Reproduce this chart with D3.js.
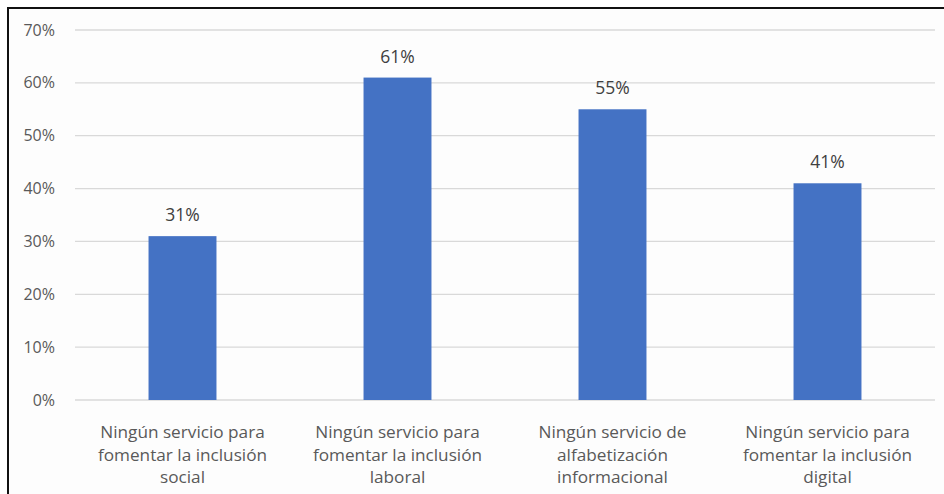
<!DOCTYPE html>
<html>
<head>
<meta charset="utf-8">
<script src="https://cdn.jsdelivr.net/npm/d3@7"></script>
<style>
  html, body { margin: 0; padding: 0; background: #fff; }
  svg { display: block; }
  text { font-family: "Open Sans", "Noto Sans", sans-serif; fill: #595959; }
</style>
</head>
<body>
<svg id="chart" width="944" height="494"></svg>
<script>
// Share of institutions offering no service of each kind
const categories = [
  ["Ningún servicio para", "fomentar la inclusión", "social"],
  ["Ningún servicio para", "fomentar la inclusión", "laboral"],
  ["Ningún servicio de", "alfabetización", "informacional"],
  ["Ningún servicio para", "fomentar la inclusión", "digital"]
];
const values = [31, 61, 55, 41];
const yTicks = [0, 10, 20, 30, 40, 50, 60, 70];

const svg = d3.select("#chart");
const W = 944, H = 494;

// Frame around the chart
svg.append("rect").attr("x", 8).attr("y", 8).attr("width", W + 10).attr("height", H + 10)
  .attr("fill", "#fdfdfd").attr("stroke", "#111").attr("stroke-width", 2);

const plot = { left: 75, right: 935, top: 30, bottom: 400 };

const x = d3.scaleBand()
  .domain(d3.range(values.length))
  .range([plot.left, plot.right])
  .paddingInner(0.684)
  .paddingOuter(0.342);

const y = d3.scaleLinear().domain([0, 70]).range([plot.bottom, plot.top]);

// Horizontal gridlines
svg.append("g").selectAll("line").data(yTicks).join("line")
  .attr("x1", plot.left).attr("x2", plot.right)
  .attr("y1", d => y(d)).attr("y2", d => y(d))
  .attr("stroke", "#d9d9d9").attr("stroke-width", 1.3);

// Y-axis labels
const yAxis = svg.append("g")
  .attr("transform", `translate(${plot.left - 20},0)`)
  .call(d3.axisLeft(y).tickValues(yTicks).tickFormat(d => d + "%").tickSize(0).tickPadding(0));
yAxis.select(".domain").remove();
yAxis.selectAll("text").style("font-size", "16px").attr("fill", "#595959")
  .style("font-family", '"Open Sans", "Noto Sans", sans-serif');

// Bars
svg.append("g").selectAll("rect").data(values).join("rect")
  .attr("x", (d, i) => x(i))
  .attr("width", x.bandwidth())
  .attr("y", d => y(d))
  .attr("height", d => y(0) - y(d))
  .attr("fill", "#4472c4");

// Value labels
svg.append("g").selectAll("text").data(values).join("text")
  .attr("x", (d, i) => x(i) + x.bandwidth() / 2)
  .attr("y", d => y(d) - 15)
  .attr("text-anchor", "middle")
  .style("font-size", "17.5px")
  .style("fill", "#404040")
  .text(d => d + "%");

// Category labels (three lines each)
const cat = svg.append("g").selectAll("text").data(categories).join("text")
  .attr("x", (d, i) => x(i) + x.bandwidth() / 2)
  .attr("y", 438)
  .attr("text-anchor", "middle")
  .style("font-size", "17.2px");
cat.selectAll("tspan").data(d => d).join("tspan")
  .attr("x", function () { return this.parentNode.getAttribute("x"); })
  .attr("dy", (d, i) => i === 0 ? 0 : 22.5)
  .text(d => d);
</script>
</body>
</html>
